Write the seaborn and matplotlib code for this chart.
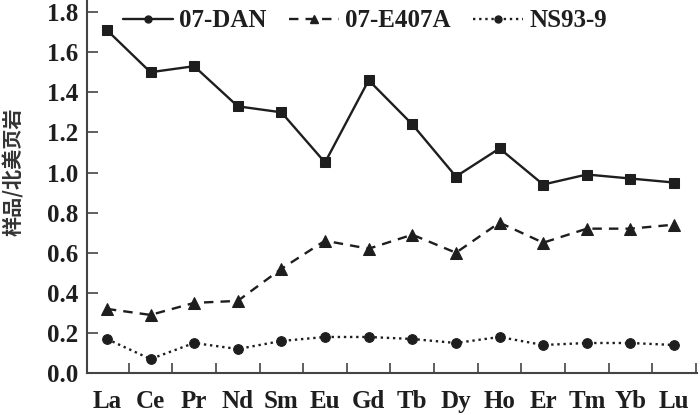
import numpy as np
import pandas as pd
import seaborn as sns
from matplotlib import pyplot as plt
from matplotlib.lines import Line2D

# REE distribution, sample / NASC
elements = ["La", "Ce", "Pr", "Nd", "Sm", "Eu", "Gd", "Tb", "Dy", "Ho", "Er", "Tm", "Yb", "Lu"]
dan_07 = [1.71, 1.50, 1.53, 1.33, 1.30, 1.05, 1.46, 1.24, 0.98, 1.12, 0.94, 0.99, 0.97, 0.95]
e407a_07 = [0.32, 0.29, 0.35, 0.36, 0.52, 0.66, 0.62, 0.69, 0.60, 0.75, 0.65, 0.72, 0.72, 0.74]
ns93_9 = [0.17, 0.07, 0.15, 0.12, 0.16, 0.18, 0.18, 0.17, 0.15, 0.18, 0.14, 0.15, 0.15, 0.14]
series_names = ["07-DAN", "07-E407A", "NS93-9"]
y_ticks = [0.0, 0.2, 0.4, 0.6, 0.8, 1.0, 1.2, 1.4, 1.6, 1.8]

sns.set_theme(style="ticks")
plt.rcParams["font.family"] = ["Liberation Serif", "DejaVu Serif"]
plt.rcParams["font.weight"] = "bold"

ink = "#1e1e1e"
pos = np.arange(len(elements))
df = pd.DataFrame({"pos": pos, "07-DAN": dan_07, "07-E407A": e407a_07, "NS93-9": ns93_9})

fig = plt.figure(figsize=(7, 4.15), dpi=100)
ax = fig.add_axes([0.124, 0.101, 0.872, 0.899])

styles = {
    "07-DAN": dict(marker="s", markersize=7.5, linestyle="-"),
    "07-E407A": dict(marker="^", markersize=8, linestyle=(0, (4, 3))),
    "NS93-9": dict(marker="o", markersize=7, linestyle=(0, (1, 1.6))),
}
for name in series_names:
    sns.lineplot(data=df, x="pos", y=name, ax=ax, color=ink, linewidth=1.7,
                 markeredgecolor=ink, markerfacecolor=ink, **styles[name])

ax.set_xlim(-0.46, 13.53)
ax.set_ylim(0, 1.86)
ax.set_xticks(pos)
ax.set_xticklabels(elements)
ax.set_xticks(pos + 0.5, minor=True)
ax.set_yticks(y_ticks)
ax.set_yticklabels([f"{v:.1f}" for v in y_ticks])
ax.tick_params(axis="x", which="major", length=0, pad=12, labelsize=18, colors=ink)
ax.tick_params(axis="x", which="minor", direction="in", length=7, width=1.2, color="#444444")
ax.tick_params(axis="y", which="major", direction="in", length=8, width=1.2, pad=6,
               labelsize=18, colors=ink)
ax.tick_params(axis="y", color="#444444")
for lbl in ax.get_xticklabels() + ax.get_yticklabels():
    lbl.set_fontweight("bold")

sns.despine(ax=ax)
ax.spines["left"].set_linewidth(1.5)
ax.spines["bottom"].set_linewidth(1.5)
ax.spines["left"].set_color("#444444")
ax.spines["bottom"].set_color("#444444")

ax.set_xlabel("")
ax.set_ylabel("样品/北美页岩", family=["Noto Sans CJK SC", "DejaVu Sans"], fontsize=14.5,
              fontweight="bold", color="#333333")
ax.yaxis.set_label_coords(-0.103, 0.54)

handles = [
    Line2D([], [], color=ink, linewidth=1.7, linestyle="-", marker="o", markersize=5),
    Line2D([], [], color=ink, linewidth=1.7, linestyle=(0, (4, 3)), marker="^", markersize=6),
    Line2D([], [], color=ink, linewidth=1.7, linestyle=(0, (1, 1.6)), marker="o", markersize=5),
]
leg = ax.legend(handles, series_names, loc="upper left", bbox_to_anchor=(0.059, 0.975),
                ncol=3, frameon=False, fontsize=18, handlelength=2.0, handletextpad=0.25,
                columnspacing=0.9, borderpad=0, borderaxespad=0)
for t in leg.get_texts():
    t.set_fontweight("bold")
    t.set_color(ink)

plt.savefig("out.png", dpi=100)
plt.close()
